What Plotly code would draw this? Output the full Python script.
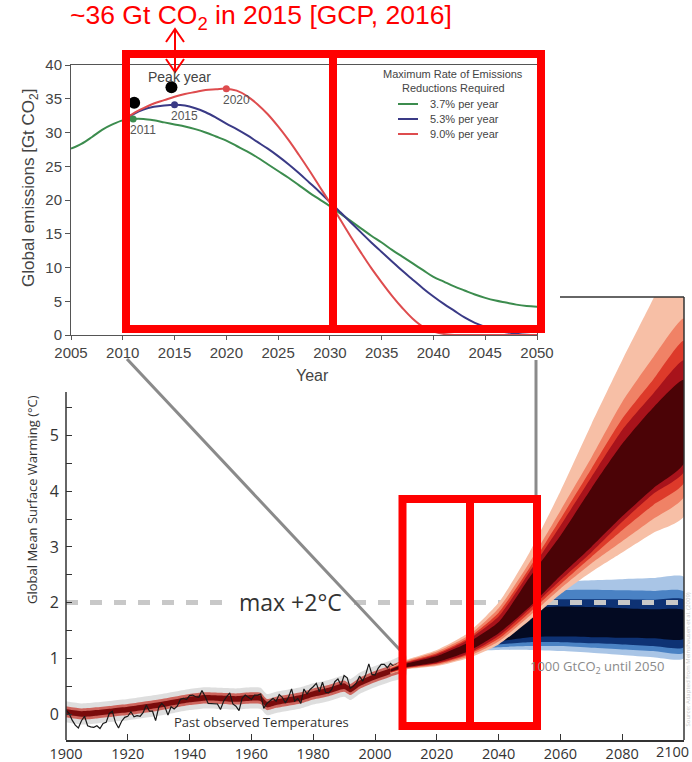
import plotly.graph_objects as go

W, H = 692, 762


def px(x):
    return x / W


def py(y):
    return 1 - y / H


# ---------------- Top chart: emission pathways ----------------
em_years = list(range(2005, 2051))
em_37 = [27.6, 28.3, 29.3, 30.4, 31.2, 31.8, 32.0, 32.0, 31.8, 31.5,
         31.2, 30.9, 30.5, 30.0, 29.4, 28.8, 28.0, 27.2, 26.3, 25.3,
         24.3, 23.3, 22.2, 21.1, 20.1, 19.1, 18.0, 16.9, 15.8, 14.7,
         13.7, 12.6, 11.6, 10.6, 9.6, 8.6, 7.9, 7.2, 6.6, 6.0,
         5.5, 5.1, 4.8, 4.5, 4.3, 4.2]
br_years = list(range(2010, 2051))
em_53 = [31.8, 32.7, 33.4, 33.8, 34.0, 34.1, 34.0, 33.6, 33.0, 32.2,
         31.3, 30.5, 29.6, 28.6, 27.6, 26.5, 25.3, 24.0, 22.6, 21.2,
         19.7, 18.2, 16.7, 15.2, 13.7, 12.3, 10.9, 9.5, 8.2, 6.9,
         5.7, 4.6, 3.6, 2.6, 1.8, 1.2, 0.7, 0.4, 0.2, 0.05, 0.0]
em_90 = [31.8, 32.8, 33.6, 34.3, 34.8, 35.3, 35.7, 36.0, 36.3, 36.4,
         36.5, 36.2, 35.4, 34.2, 32.7, 30.9, 28.9, 26.7, 24.4, 22.0,
         19.6, 17.1, 14.6, 12.2, 9.9, 7.8, 5.8, 4.0, 2.4, 1.2,
         0.5, 0.15, 0.0, 0.0, 0.0, 0.0, 0.0, 0.0, 0.0, 0.0, 0.0]
peak_years = [2011, 2015, 2020]
peak_vals = [32.0, 34.1, 36.5]
peak_labels = ["2011", "2015", "2020"]
obs_peak_x = [2011.1, 2014.7]
obs_peak_y = [34.4, 36.7]
legend_labels = ["3.7% per year", "5.3% per year", "9.0% per year"]
em_ticks = list(range(2005, 2051, 5))
em_yticks = list(range(0, 41, 5))

# ---------------- Bottom chart: warming ----------------
obs_years = list(range(1900, 2011))
obs_temp = [0.07, 0.01, -0.11, -0.20, -0.25, -0.12, -0.04, -0.21, -0.23, -0.24,
            -0.21, -0.26, -0.17, -0.15, 0.01, 0.05, -0.15, -0.25, -0.13, -0.06,
            -0.04, 0.04, -0.05, -0.03, -0.04, 0.03, 0.16, 0.05, 0.05, -0.12,
            0.12, 0.19, 0.13, -0.02, 0.13, 0.09, 0.14, 0.26, 0.28, 0.26,
            0.33, 0.34, 0.31, 0.30, 0.42, 0.32, 0.19, 0.19, 0.19, 0.18,
            0.08, 0.23, 0.31, 0.38, 0.18, 0.14, 0.06, 0.28, 0.34, 0.30,
            0.26, 0.34, 0.34, 0.36, 0.10, 0.19, 0.24, 0.28, 0.23, 0.35,
            0.30, 0.20, 0.30, 0.45, 0.23, 0.28, 0.19, 0.45, 0.36, 0.44,
            0.49, 0.55, 0.40, 0.57, 0.39, 0.38, 0.44, 0.58, 0.63, 0.52,
            0.69, 0.65, 0.46, 0.50, 0.56, 0.68, 0.59, 0.71, 0.90, 0.71,
            0.70, 0.82, 0.89, 0.89, 0.83, 0.91, 0.86, 0.89, 0.76, 0.87, 0.93]

hist_years = [1900, 1905, 1910, 1915, 1920, 1925, 1930, 1935, 1940, 1945, 1950, 1955,
              1960, 1963, 1965, 1968, 1972, 1976, 1980, 1985, 1990, 1992, 1995, 2000,
              2005, 2010]
hist_mid = [0.04, 0.0, 0.02, 0.05, 0.08, 0.12, 0.16, 0.21, 0.26, 0.29, 0.28, 0.27,
            0.29, 0.28, 0.17, 0.21, 0.25, 0.29, 0.36, 0.42, 0.50, 0.44, 0.55, 0.67,
            0.77, 0.87]

fan_years = [2005, 2010, 2020, 2030, 2040, 2050, 2060, 2070, 2080, 2090, 2100]
red_b1_hi = [0.84, 0.97, 1.15, 1.45, 2.00, 2.90, 4.00, 5.20, 6.35, 7.45, 8.60]
red_b1_lo = [0.72, 0.80, 0.86, 1.00, 1.25, 1.68, 2.15, 2.55, 2.90, 3.25, 3.55]
red_b2_hi = [0.83, 0.95, 1.12, 1.40, 1.90, 2.72, 3.65, 4.60, 5.60, 6.40, 7.10]
red_b2_lo = [0.73, 0.81, 0.88, 1.03, 1.30, 1.76, 2.25, 2.70, 3.10, 3.50, 3.90]
red_b3_hi = [0.82, 0.93, 1.09, 1.36, 1.82, 2.62, 3.50, 4.40, 5.30, 6.00, 6.70]
red_b3_lo = [0.74, 0.82, 0.90, 1.06, 1.35, 1.82, 2.33, 2.82, 3.30, 3.75, 4.15]
red_b4_hi = [0.81, 0.92, 1.07, 1.33, 1.75, 2.55, 3.38, 4.25, 5.10, 5.75, 6.35]
red_b4_lo = [0.75, 0.83, 0.91, 1.08, 1.40, 1.88, 2.40, 2.90, 3.45, 3.95, 4.35]
red_b5_hi = [0.80, 0.90, 1.04, 1.28, 1.65, 2.45, 3.20, 4.05, 4.85, 5.50, 6.00]
red_b5_lo = [0.76, 0.84, 0.93, 1.12, 1.45, 1.92, 2.48, 3.00, 3.55, 4.05, 4.50]

blue_years = [2025, 2030, 2040, 2050, 2060, 2070, 2080, 2090, 2100]
blue_b1_hi = [1.12, 1.27, 1.80, 2.30, 2.37, 2.40, 2.42, 2.44, 2.46]
blue_b1_lo = [1.08, 1.13, 1.15, 1.15, 1.13, 1.10, 1.06, 1.02, 1.00]
blue_b2_hi = [1.115, 1.25, 1.70, 2.15, 2.22, 2.23, 2.22, 2.21, 2.20]
blue_b2_lo = [1.085, 1.15, 1.20, 1.22, 1.22, 1.19, 1.16, 1.13, 1.10]
blue_b3_hi = [1.11, 1.23, 1.60, 2.02, 2.06, 2.06, 2.06, 2.05, 2.05]
blue_b3_lo = [1.09, 1.17, 1.25, 1.29, 1.29, 1.27, 1.25, 1.22, 1.20]
blue_b4_hi = [1.105, 1.21, 1.50, 1.88, 1.93, 1.92, 1.90, 1.88, 1.86]
blue_b4_lo = [1.095, 1.19, 1.30, 1.38, 1.39, 1.38, 1.37, 1.36, 1.35]

limit_years = [1900, 2100]
limit_vals = [2, 2]
warm_xticks = list(range(1900, 2101, 20))
warm_xlabels = [str(v) for v in warm_xticks[:-1]] + [""]
warm_yticks = [0, 1, 2, 3, 4, 5]
warm_minor = [0.5, 1.5, 2.5, 3.5, 4.5, 5.5]

GREEN, BLUE, RED = "#3C8C4E", "#3A3A86", "#DE4C4E"
SANS = "Liberation Sans, Arial, sans-serif"
OPEN = "Open Sans, sans-serif"

fig = go.Figure()

# top chart lines
fig.add_trace(go.Scatter(x=em_years, y=em_37, mode="lines", line=dict(color=GREEN, width=2, shape="spline"),
                         xaxis="x", yaxis="y"))
fig.add_trace(go.Scatter(x=br_years, y=em_53, mode="lines", line=dict(color=BLUE, width=2, shape="spline"),
                         xaxis="x", yaxis="y"))
fig.add_trace(go.Scatter(x=br_years, y=em_90, mode="lines", line=dict(color=RED, width=2, shape="spline"),
                         xaxis="x", yaxis="y"))
fig.add_trace(go.Scatter(x=peak_years, y=peak_vals, mode="markers",
                         marker=dict(color=[GREEN, BLUE, RED], size=7), xaxis="x", yaxis="y"))
fig.add_trace(go.Scatter(x=obs_peak_x, y=obs_peak_y, mode="markers",
                         marker=dict(color="black", size=12), xaxis="x", yaxis="y"))


def band(xs, hi, lo, color):
    fig.add_trace(go.Scatter(x=xs + xs[::-1], y=hi + lo[::-1], fill="toself", fillcolor=color,
                             mode="lines", line=dict(width=0, shape="spline", smoothing=0.6),
                             hoverinfo="skip", xaxis="x2", yaxis="y2"))


# historical envelope
hist_gray = 0.19
hist_light = 0.10
hist_dark = 0.05
band(hist_years, [v + hist_gray for v in hist_mid], [v - hist_gray for v in hist_mid], "rgba(195,195,195,0.55)")
band(hist_years, [v + hist_light for v in hist_mid], [v - hist_light for v in hist_mid], "rgba(200,60,50,0.75)")
band(hist_years, [v + hist_dark for v in hist_mid], [v - hist_dark for v in hist_mid], "#7A0B0B")
fig.add_trace(go.Scatter(x=obs_years, y=obs_temp, mode="lines", line=dict(color="#1a1a1a", width=1.2),
                         xaxis="x2", yaxis="y2"))

# blue fan
band(blue_years, blue_b1_hi, blue_b1_lo, "#A9C5E6")
band(blue_years, blue_b2_hi, blue_b2_lo, "#4A82C4")
band(blue_years, blue_b3_hi, blue_b3_lo, "#0E3274")
band(blue_years, blue_b4_hi, blue_b4_lo, "#030A22")

# +2 line
fig.add_trace(go.Scatter(x=limit_years, y=limit_vals, mode="lines",
                         line=dict(color="#C8C8C8", width=5, dash="12px,12px"), xaxis="x2", yaxis="y2"))

# red fan
band(fan_years, red_b1_hi, red_b1_lo, "#F7BFA6")
band(fan_years, red_b2_hi, red_b2_lo, "#F08266")
band(fan_years, red_b3_hi, red_b3_lo, "#DD3A2A")
band(fan_years, red_b4_hi, red_b4_lo, "#A8131B")
band(fan_years, red_b5_hi, red_b5_lo, "#4B0306")

shapes = []


def line(x0, y0, x1, y1, color, width):
    shapes.append(dict(type="line", xref="paper", yref="paper", x0=px(x0), y0=py(y0), x1=px(x1), y1=py(y1),
                       line=dict(color=color, width=width), layer="above"))


def rect(x0, y0, x1, y1, color, width, fill="rgba(0,0,0,0)"):
    shapes.append(dict(type="rect", xref="paper", yref="paper", x0=px(x0), y0=py(y0), x1=px(x1), y1=py(y1),
                       line=dict(color=color, width=width), fillcolor=fill, layer="above"))


# white gap in the +2 line behind its label
rect(232, 595, 350, 609, "rgba(0,0,0,0)", 0, fill="white")

# bottom chart frame (partly hidden behind top chart)
line(66, 392, 66, 740, "#333", 1.5)
line(560, 297, 684, 297, "#333", 1.5)
line(684, 297, 684, 740, "#333", 1.5)

# legend of top chart
for yy, c in zip([104, 119, 134], [GREEN, BLUE, RED]):
    line(398, yy, 418, yy, c, 2)

# connector lines
line(127, 359, 400, 650, "#8a8a8a", 3)
line(536, 360, 536, 499, "#8a8a8a", 3)

# red highlight rectangles
rect(126, 54, 541, 329, "#FF0000", 8)
line(333, 54, 333, 329, "#FF0000", 8)
rect(402.5, 499, 537, 726, "#FF0000", 8)
line(470, 499, 470, 726, "#FF0000", 8)

# double arrow
line(175, 30, 175, 71, "#FF0000", 2)
shapes.append(dict(type="path", xref="paper", yref="paper", layer="above",
                   path=f"M {px(166)},{py(42)} L {px(175)},{py(29)} L {px(184)},{py(42)}",
                   line=dict(color="#FF0000", width=2)))
shapes.append(dict(type="path", xref="paper", yref="paper", layer="above",
                   path=f"M {px(166)},{py(59)} L {px(175)},{py(72)} L {px(184)},{py(59)}",
                   line=dict(color="#FF0000", width=2)))

annotations = []


def note(x, y, text, size, color, family=SANS, xanchor="center", angle=0):
    annotations.append(dict(xref="paper", yref="paper", x=px(x), y=py(y), text=text, showarrow=False,
                            font=dict(family=family, size=size, color=color), xanchor=xanchor,
                            yanchor="middle", textangle=angle))


# peak year labels tied to the data points
for yr, val, lab in zip(peak_years, peak_vals, peak_labels):
    annotations.append(dict(xref="x", yref="y", x=yr, y=val, text=lab, showarrow=False,
                            xshift=10, yshift=-11, font=dict(family=SANS, size=12, color="#555")))

note(260.5, 17, "~36 Gt CO<sub>2</sub> in 2015 [GCP, 2016]", 26.5, "#FF0000")
note(179, 77, "Peak year", 14, "#444")
note(453, 74, "Maximum Rate of Emissions", 11, "#444")
note(453, 88, "Reductions Required", 11, "#444")
for yy, lab in zip([104, 119, 134], legend_labels):
    note(428, yy, lab, 11, "#444", xanchor="left")
note(30, 188, "Global emissions [Gt CO<sub>2</sub>]", 17, "#444", angle=-90)
note(312, 375, "Year", 16, "#444")

note(32, 500, "Global Mean Surface Warming (°C)", 13, "#333", family=OPEN, angle=-90)
note(290, 602, "max +2°C", 23, "#333", family=OPEN)
note(597, 667, "1000 GtCO<sub>2</sub> until 2050", 13, "#8a8a8a", family=OPEN)
note(261, 722, "Past observed Temperatures", 13, "#333", family=OPEN)
note(687.5, 660, "Source: Adapted from Meinshausen et al. (2009)", 6, "#c8c8c8", family=OPEN, angle=-90)
note(672, 751, "2100", 14.5, "#333", family=OPEN)

fig.update_layout(
    width=W, height=H, autosize=False,
    margin=dict(l=0, r=0, t=0, b=0, pad=0, autoexpand=False),
    paper_bgcolor="white", plot_bgcolor="rgba(0,0,0,0)",
    showlegend=False,
    xaxis=dict(domain=[px(71), px(537)], range=[2005, 2050], anchor="y", tickvals=em_ticks,
               ticks="outside", ticklen=4, tickcolor="#555", showline=True, linecolor="#555",
               linewidth=1, mirror=True, showgrid=False, zeroline=False, automargin=False,
               tickfont=dict(family=SANS, size=15, color="#444")),
    yaxis=dict(domain=[py(335), py(65)], range=[0, 40], anchor="x", tickvals=em_yticks,
               ticks="outside", ticklen=5, tickcolor="#555", showline=True, linecolor="#555",
               linewidth=1, mirror=True, showgrid=False, zeroline=False, automargin=False,
               tickfont=dict(family=SANS, size=15, color="#444")),
    xaxis2=dict(domain=[px(66), px(684)], range=[1900, 2100], anchor="y2", tickvals=warm_xticks,
                ticktext=warm_xlabels,
                ticks="inside", ticklen=6, tickcolor="#333", showline=True, linecolor="#333",
                linewidth=1.5, showgrid=False, zeroline=False, automargin=False,
                tickfont=dict(family=OPEN, size=14.5, color="#333")),
    yaxis2=dict(domain=[py(740), py(297)], range=[-0.4668, 7.487], anchor="x2", tickvals=warm_yticks,
                ticks="inside", ticklen=6, tickcolor="#333", showline=False, showgrid=False,
                zeroline=False, ticklabelstandoff=6, automargin=False,
                minor=dict(tickvals=warm_minor, ticks="inside", ticklen=6, tickcolor="#333"),
                tickfont=dict(family=OPEN, size=16, color="#333")),
    shapes=shapes,
    annotations=annotations,
)

fig.write_html("out.html", config={"displayModeBar": False},
               post_script="document.body.style.margin='0px';document.body.style.padding='0px';"
                           "document.body.style.overflow='hidden';")
